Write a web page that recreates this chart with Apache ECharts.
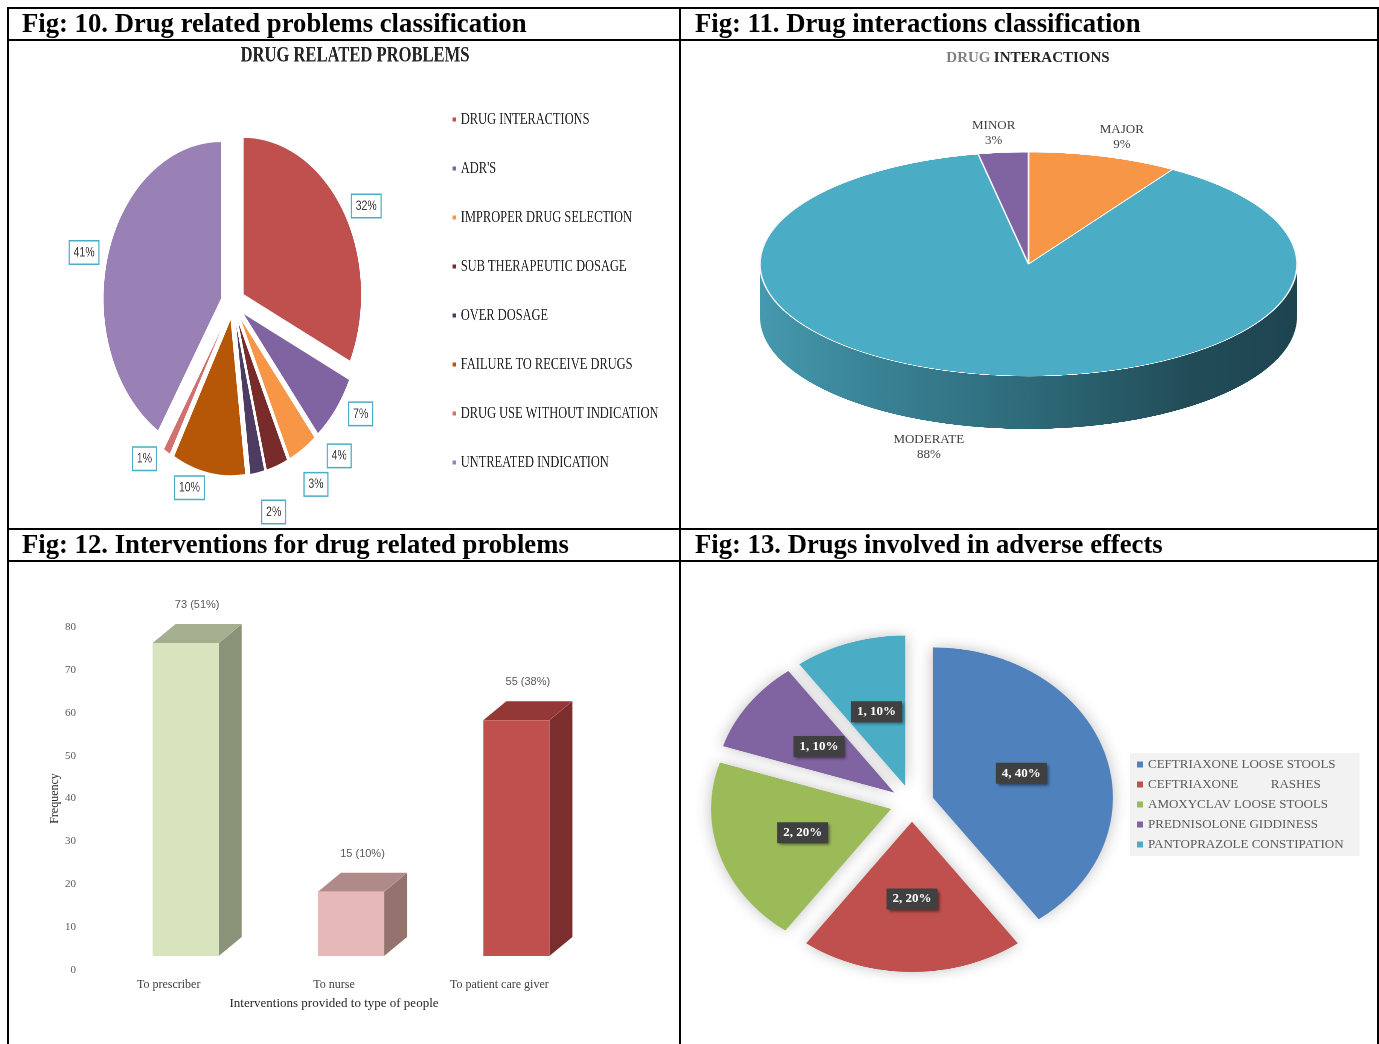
<!DOCTYPE html>
<html><head><meta charset="utf-8">
<script src="https://cdn.jsdelivr.net/npm/echarts@6/dist/echarts.min.js"></script>
<style>
html,body{margin:0;padding:0;background:#fff;width:1379px;height:1044px;overflow:hidden;}
.c{position:absolute;}
#main{left:0;top:0;width:1379px;height:1044px;z-index:5;}
#fig10{left:9px;top:41px;width:890px;height:487px;transform:scaleX(0.753);transform-origin:0 0;}
#fig11{left:681px;top:41px;width:697px;height:1168px;transform:scaleY(0.417);transform-origin:0 0;}
#fig13{left:681px;top:562px;width:697px;height:577px;transform:scaleY(0.835);transform-origin:0 0;}
</style></head><body>
<div id="fig10" class="c"></div><div id="fig11" class="c"></div><div id="fig13" class="c"></div><div id="main" class="c"></div>
<script>
// ---------- DATA ----------
const drpCategories = ['DRUG INTERACTIONS', "ADR'S", 'IMPROPER DRUG SELECTION', 'SUB THERAPEUTIC DOSAGE', 'OVER DOSAGE', 'FAILURE TO RECEIVE DRUGS', 'DRUG USE WITHOUT INDICATION', 'UNTREATED INDICATION'];
const drpValues = [32, 7, 4, 3, 2, 10, 1, 41];

const diCategories = ['MAJOR', 'MODERATE', 'MINOR'];
const diValues = [9, 88, 3];

const intCategories = ['To prescriber', 'To nurse', 'To patient care giver'];
const intValues = [73, 15, 55];
const intPercents = ['51%', '10%', '38%'];
const freqTicks = { min: 0, max: 80, interval: 10 };

const adrCategories = ['CEFTRIAXONE LOOSE STOOLS', 'CEFTRIAXONE          RASHES', 'AMOXYCLAV LOOSE STOOLS', 'PREDNISOLONE GIDDINESS', 'PANTOPRAZOLE CONSTIPATION'];
const adrValues = [4, 2, 2, 1, 1];

// ---------- STYLES ----------
const drpColors = ['#C0504D', '#8064A2', '#F79646', '#772C2A', '#4D3B62', '#B65708', '#D0716F', '#9A81B5'];
const diColors = ['#F79646', '#4BACC6', '#8064A2'];
const barFront = ['#D7E4BD', '#E6B9B8', '#C0504D'];
const barTop = ['#A3AF8F', '#B08A88', '#933837'];
const barSide = ['#899378', '#94736F', '#7B2E2D'];
const adrColors = ['#4F81BD', '#C0504D', '#9BBB59', '#8064A2', '#4BACC6'];
const SERIF = 'Liberation Serif';

// ---------- FIG 10 (stretched pie) ----------
const c10 = echarts.init(document.getElementById('fig10'), null, { devicePixelRatio: 2 });
c10.setOption({
  animation: false,
  graphic: [{ type: 'text', x: 459.5, y: 4, style: { text: 'DRUG RELATED PROBLEMS', fontFamily: SERIF, fontWeight: 'bold', fontSize: 22, fill: '#262626', align: 'center', verticalAlign: 'top' } }],
  legend: {
    orient: 'vertical', left: 582, top: 65, itemWidth: 7, itemHeight: 6, itemGap: 32, icon: 'rect', selectedMode: false,
    textStyle: { fontFamily: SERIF, fontSize: 16.5, color: '#262626' },
    data: drpCategories
  },
  series: [{
    type: 'pie', center: [297.5, 262], radius: 157, startAngle: 90, clockwise: true,
    selectedMode: 'multiple', selectedOffset: 16, avoidLabelOverlap: true,
    label: { show: true, position: 'outside', formatter: '{d}%', fontFamily: 'Liberation Sans', fontSize: 14, color: '#404040', backgroundColor: '#fff', borderColor: '#4BACC6', borderWidth: 1.5, padding: [4, 5] },
    labelLine: { show: false, length: 8, length2: 0 },
    itemStyle: { borderColor: '#fff', borderWidth: 1 },
    emphasis: { disabled: true },
    data: drpCategories.map((n, i) => ({ name: n, value: drpValues[i], selected: true, itemStyle: { color: drpColors[i] } }))
  }]
});

// ---------- FIG 11 (3D flat pie, vertically squashed) ----------
const c11 = echarts.init(document.getElementById('fig11'), null, { devicePixelRatio: 2 });
const DI_C = [347.5, 535], DI_R = 268.5, DI_DEPTH_U = 127, DI_LAYERS = 16;
const sideGrad = new echarts.graphic.LinearGradient(0, 0, 1, 0, [
  { offset: 0, color: '#4699ae' }, { offset: 0.2, color: '#3a8497' }, { offset: 0.5, color: '#2e6a79' },
  { offset: 0.8, color: '#224d58' }, { offset: 1, color: '#1e4450' }]);
const s11 = [];
for (let k = DI_LAYERS; k >= 1; k--) {
  s11.push({
    type: 'pie', center: [DI_C[0], DI_C[1] + DI_DEPTH_U * k / DI_LAYERS], radius: DI_R, startAngle: 90, clockwise: true,
    label: { show: false }, labelLine: { show: false }, emphasis: { disabled: true }, silent: true,
    itemStyle: { color: sideGrad, borderWidth: 0 },
    data: diCategories.map((n, i) => ({ name: n, value: diValues[i] }))
  });
}
s11.push({
  type: 'pie', center: DI_C, radius: DI_R, startAngle: 90, clockwise: true,
  label: { show: false }, labelLine: { show: false }, emphasis: { disabled: true }, silent: true,
  itemStyle: { borderColor: '#f4f8fa', borderWidth: 1.6 },
  data: diCategories.map((n, i) => ({ name: n, value: diValues[i], itemStyle: { color: diColors[i] } }))
});
c11.setOption({ animation: false, series: s11 });

// ---------- FIG 13 (exploded pie, slightly squashed) ----------
const c13 = echarts.init(document.getElementById('fig13'), null, { devicePixelRatio: 2 });
c13.setOption({
  animation: false,
  series: [{
    type: 'pie', center: [231, 289], radius: 180, startAngle: 90, clockwise: true,
    selectedMode: 'multiple', selectedOffset: 22,
    label: { show: false }, labelLine: { show: false }, emphasis: { disabled: true }, silent: true,
    itemStyle: { shadowBlur: 16, shadowColor: 'rgba(0,0,0,0.25)' },
    data: adrCategories.map((n, i) => ({ name: n, value: adrValues[i], selected: true, itemStyle: { color: adrColors[i] } }))
  }]
});

// ---------- MAIN (frame, headers, Fig 12 bars, overlay labels) ----------
const main = echarts.init(document.getElementById('main'));
const DI_CX = 1028.5, DI_CY = 264, DI_K = 0.417, DI_DEPTH = 53;
const ADR_CY = 803, ADR_K = 0.835;
const SHIFT_X = 17, SHIFT_Y = -14, DX = 23, DY = -19;

function line(x1, y1, x2, y2) {
  return { type: 'line', shape: { x1, y1, x2, y2 }, style: { stroke: '#000', lineWidth: 2 }, silent: true };
}
function header(x, y, t) {
  return { type: 'text', x, y, style: { text: t, fontFamily: SERIF, fontWeight: 'bold', fontSize: 26.7, fill: '#000', verticalAlign: 'middle' }, silent: true };
}

function renderBar(params, api) {
  const i = api.value(0), v = api.value(1);
  const base = api.coord([i, 0]), top = api.coord([i, v]);
  const bw = api.size([1, 0])[0] * 0.4;
  const cx = base[0] + SHIFT_X;
  const xl = cx - bw / 2, xr = cx + bw / 2;
  const yb = base[1] + SHIFT_Y, yt = top[1] + SHIFT_Y;
  return {
    type: 'group', children: [
      { type: 'polygon', shape: { points: [[xr, yt], [xr + DX, yt + DY], [xr + DX, yb + DY], [xr, yb]] }, style: { fill: barSide[i] } },
      { type: 'polygon', shape: { points: [[xl, yt], [xl + DX, yt + DY], [xr + DX, yt + DY], [xr, yt]] }, style: { fill: barTop[i] } },
      { type: 'rect', shape: { x: xl, y: yt, width: bw, height: yb - yt }, style: { fill: barFront[i] } },
      { type: 'text', x: cx + DX / 2, y: yt + DY - 19, style: { text: v + ' (' + intPercents[i] + ')', fontFamily: 'Liberation Sans', fontSize: 11, fill: '#595959', align: 'center', verticalAlign: 'middle' } }
    ]
  };
}

main.setOption({
  animation: false,
  graphic: [
    line(7, 8, 1379, 8), line(7, 40, 1379, 40), line(7, 529, 1379, 529), line(7, 561, 1379, 561),
    line(8, 7, 8, 1044), line(680, 7, 680, 1044), line(1378, 7, 1378, 1044),
    header(22, 25, 'Fig: 10. Drug related problems classification'),
    header(695, 25, 'Fig: 11. Drug interactions classification'),
    header(22, 546, 'Fig: 12. Interventions for drug related problems'),
    header(695, 546, 'Fig: 13. Drugs involved in adverse effects'),
    { type: 'text', x: 1028, y: 58, style: { rich: { a: { fill: '#7F7F7F', fontFamily: SERIF, fontWeight: 'bold', fontSize: 15 }, b: { fill: '#262626', fontFamily: SERIF, fontWeight: 'bold', fontSize: 15 } }, text: '{a|DRUG} {b|INTERACTIONS}', align: 'center', verticalAlign: 'middle' }, silent: true }
  ],
  grid: { left: 86, right: 797, top: 627, bottom: 74 },
  xAxis: {
    type: 'category', data: intCategories,
    axisLine: { show: false }, axisTick: { show: false },
    axisLabel: { margin: 9, fontFamily: SERIF, fontSize: 12, color: '#404040' },
    name: 'Interventions provided to type of people', nameLocation: 'middle', nameGap: 27,
    nameTextStyle: { fontFamily: SERIF, fontSize: 13, color: '#262626' }
  },
  yAxis: {
    type: 'value', min: freqTicks.min, max: freqTicks.max, interval: freqTicks.interval,
    splitLine: { show: false }, axisLine: { show: false }, axisTick: { show: false },
    axisLabel: { margin: 10, fontFamily: SERIF, fontSize: 11, color: '#595959' },
    name: 'Frequency', nameLocation: 'middle', nameRotate: 90, nameGap: 25,
    nameTextStyle: { fontFamily: SERIF, fontSize: 12, color: '#262626' }
  },
  legend: {
    orient: 'vertical', left: 1130, top: 753, backgroundColor: '#F2F2F2', padding: [5, 16, 5, 7],
    itemWidth: 6, itemHeight: 6, itemGap: 7, icon: 'rect', selectedMode: false,
    textStyle: { fontFamily: SERIF, fontSize: 13, color: '#595959' },
    data: adrCategories.map((n, i) => ({ name: n, itemStyle: { color: adrColors[i], opacity: 1 } }))
  },
  series: [
    { type: 'custom', renderItem: renderBar, clip: false, silent: true, data: intValues.map((v, i) => [i, v]) },
    {
      type: 'pie', center: [DI_CX, DI_CY], radius: 268.5, startAngle: 90, clockwise: true, silent: true,
      avoidLabelOverlap: false,
      itemStyle: { color: 'rgba(0,0,0,0)' }, emphasis: { disabled: true },
      label: { show: true, position: 'outside', formatter: '{b}\n{d}%', fontFamily: SERIF, fontSize: 13, lineHeight: 15, color: '#404040', align: 'center' },
      labelLine: { show: false, length: 48, length2: 0 },
      labelLayout: function (p) {
        const r = p.labelRect; const cx = r.x + r.width / 2, ly = r.y + r.height / 2; const d = ly - DI_CY;
        const lx = d < 0 ? (cx > DI_CX ? r.x : r.x + r.width) : cx;
        return { x: lx, y: DI_CY + d * DI_K + (d > 0 ? DI_DEPTH : 0), align: 'center', verticalAlign: 'middle' };
      },
      data: diCategories.map((n, i) => ({ name: n, value: diValues[i] }))
    },
    {
      type: 'pie', center: [912, ADR_CY], radius: [44, 180], startAngle: 90, clockwise: true, silent: true,
      itemStyle: { color: 'rgba(0,0,0,0)' }, emphasis: { disabled: true },
      label: { show: true, position: 'inside', formatter: '{c}, {d}%', fontFamily: SERIF, fontWeight: 'bold', fontSize: 13, color: '#fff', backgroundColor: '#404040', padding: [4, 6], shadowBlur: 3, shadowColor: 'rgba(0,0,0,0.5)', shadowOffsetX: 2, shadowOffsetY: 2 },
      labelLine: { show: false },
      labelLayout: function (p) {
        const r = p.labelRect; const lx = r.x + r.width / 2, ly = r.y + r.height / 2;
        return { x: lx, y: ADR_CY + (ly - ADR_CY) * ADR_K, align: 'center', verticalAlign: 'middle' };
      },
      data: adrCategories.map((n, i) => ({ name: n, value: adrValues[i] }))
    }
  ]
});
</script></body></html>
